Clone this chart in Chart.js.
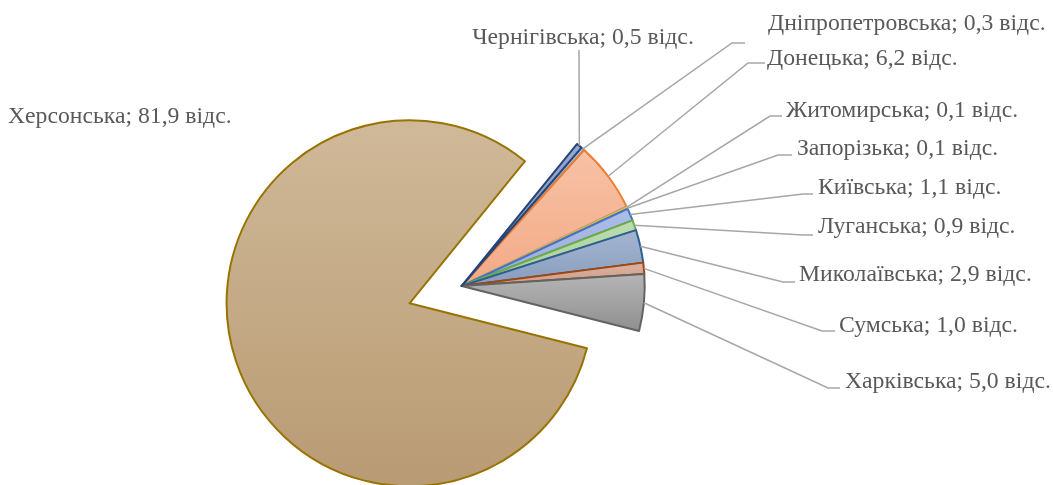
<!DOCTYPE html>
<html>
<head>
<meta charset="utf-8">
<script src="https://cdn.jsdelivr.net/npm/chart.js@4/dist/chart.umd.min.js"></script>
<style>
  html, body { margin: 0; padding: 0; background: #ffffff; }
  canvas { display: block; }
</style>
</head>
<body>
<canvas id="chart" width="1053" height="485"></canvas>
<script>
// Regions and their shares, in drawing order (clockwise)
const regions = [
  'Дніпропетровська', 'Донецька', 'Житомирська', 'Запорізька', 'Київська',
  'Луганська', 'Миколаївська', 'Сумська', 'Харківська', 'Херсонська', 'Чернігівська'
];
const shares = [0.3, 6.2, 0.1, 0.1, 1.1, 0.9, 2.9, 1.0, 5.0, 81.9, 0.5];
const unit = 'відс.';

// Styling per slice: gradient top, gradient bottom, outline
const fillTop = ['#aac4ea', '#f7c2a6', '#c8c8c8', '#ffd878', '#adbde8', '#bcdcb0',
                 '#a4b5cf', '#dcb0a0', '#b5b5b5', '#d0b999', '#97a9cc'];
const fillBottom = ['#94b4e2', '#f3aa86', '#b4b4b4', '#f5c850', '#9aadde', '#a8cf98',
                    '#879dbf', '#cf9d8b', '#8f8f8f', '#b89b73', '#8096bf'];
const outline = ['#5b9bd5', '#ed7d31', '#a5a5a5', '#ffc000', '#4472c4', '#70ad47',
                 '#2e5f94', '#9e480e', '#636363', '#997300', '#264478'];
// Pulled-out distance as a fraction of the radius
const explode = [0, 0, 0, 0, 0, 0, 0, 0, 0, 0.3, 0];

// Label placement: text anchor and leader-line bend points
const labelSpots = [
  { x: 768, y: 24, align: 'left',   path: [[732, 43], [745, 43]] },
  { x: 767, y: 59, align: 'left',   path: [[748, 63], [765, 63]] },
  { x: 786, y: 111, align: 'left',  path: [[770, 116], [782, 116]] },
  { x: 797, y: 149, align: 'left',  path: [[778, 155], [792, 155]] },
  { x: 818, y: 188, align: 'left',  path: [[803, 194], [813, 194]] },
  { x: 818, y: 227, align: 'left',  path: [[803, 235], [813, 235]] },
  { x: 799, y: 275, align: 'left',  path: [[783, 282], [795, 282]] },
  { x: 839, y: 326, align: 'left',  path: [[822, 331], [835, 331]] },
  { x: 845, y: 382, align: 'left',  path: [[828, 388], [840, 388]] },
  { x: 8,   y: 117, align: 'left',  path: null },
  { x: 583, y: 38, align: 'center', path: [[579, 50]] }
];

const fmt = v => v.toFixed(1).replace('.', ',');

// Moves pulled-out slices and gives each slice a vertical gradient over its own extent
const sliceStyle = {
  id: 'sliceStyle',
  afterDatasetUpdate(chart) {
    const meta = chart.getDatasetMeta(0);
    const ctx = chart.ctx;
    meta.data.forEach((arc, i) => {
      const mid = (arc.startAngle + arc.endAngle) / 2;
      const d = (explode[i] || 0) * arc.outerRadius;
      arc.x += Math.cos(mid) * d;
      arc.y += Math.sin(mid) * d;
      const r = arc.outerRadius;
      let ys = [arc.y, arc.y + Math.sin(arc.startAngle) * r, arc.y + Math.sin(arc.endAngle) * r];
      for (let k = -4; k <= 4; k++) {
        const a = Math.PI / 2 + k * Math.PI;
        if (a > arc.startAngle && a < arc.endAngle) ys.push(arc.y + Math.sin(a) * r);
      }
      const y0 = Math.min(...ys), y1 = Math.max(...ys);
      const g = ctx.createLinearGradient(0, y0, 0, y1);
      g.addColorStop(0, fillTop[i]);
      g.addColorStop(1, fillBottom[i]);
      arc.options.backgroundColor = g;
    });
  }
};

// Category labels with leader lines
const sliceLabels = {
  id: 'sliceLabels',
  afterDatasetsDraw(chart) {
    const meta = chart.getDatasetMeta(0);
    const ctx = chart.ctx;
    ctx.save();
    ctx.font = '23.7px "Liberation Serif", "Times New Roman", serif';
    ctx.textBaseline = 'middle';
    meta.data.forEach((arc, i) => {
      const spot = labelSpots[i];
      if (spot.path) {
        const mid = (arc.startAngle + arc.endAngle) / 2;
        ctx.beginPath();
        ctx.moveTo(arc.x + Math.cos(mid) * arc.outerRadius, arc.y + Math.sin(mid) * arc.outerRadius);
        spot.path.forEach(p => ctx.lineTo(p[0], p[1]));
        ctx.strokeStyle = '#a6a6a6';
        ctx.lineWidth = 1.5;
        ctx.stroke();
      }
      ctx.fillStyle = '#595959';
      ctx.textAlign = spot.align;
      ctx.fillText(regions[i] + '; ' + fmt(shares[i]) + ' ' + unit, spot.x, spot.y);
    });
    ctx.restore();
  }
};

new Chart(document.getElementById('chart'), {
  type: 'pie',
  data: {
    labels: regions,
    datasets: [{
      data: shares,
      backgroundColor: fillTop.map(c => c),
      borderColor: outline,
      borderWidth: 2,
      borderJoinStyle: 'round',
      radius: 183
    }]
  },
  options: {
    responsive: false,
    animation: false,
    events: [],
    rotation: 40.9,
    layout: { padding: { left: 0, right: 129.6, top: 87, bottom: 0 } },
    plugins: {
      legend: { display: false },
      tooltip: { enabled: false }
    }
  },
  plugins: [sliceStyle, sliceLabels]
});
</script>
</body>
</html>
